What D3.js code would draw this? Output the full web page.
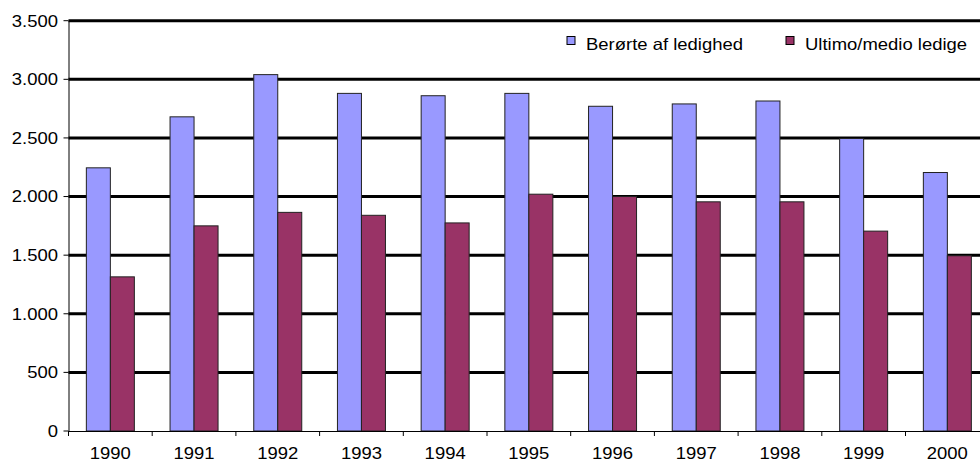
<!DOCTYPE html>
<html>
<head>
<meta charset="utf-8">
<script src="https://cdn.jsdelivr.net/npm/d3@7"></script>
<style>
  html, body { margin: 0; padding: 0; background: #fff; }
  svg { display: block; }
  text { font-family: Arial, "Liberation Sans", sans-serif; fill: #000; }
</style>
</head>
<body>
<script>
const years = ["1990","1991","1992","1993","1994","1995","1996","1997","1998","1999","2000"];
const berorte = [2245, 2680, 3040, 2880, 2860, 2880, 2770, 2790, 2815, 2495, 2205];
const ultimo = [1315, 1750, 1865, 1840, 1775, 2020, 2000, 1955, 1955, 1705, 1495];
const seriesNames = ["Berørte af ledighed", "Ultimo/medio ledige"];
const seriesColors = ["#9999FF", "#993366"];
const yTicks = [0, 500, 1000, 1500, 2000, 2500, 3000, 3500];

const W = 980, H = 463;
const plotLeft = 68.5, step = 83.7;
const plotTop = 20.7, plotBottom = 431;
const fs = 16.5, sx = 1.12;

const svg = d3.select("body").append("svg").attr("width", W).attr("height", H);

const x = d3.scaleBand().domain(years).range([plotLeft, plotLeft + step * years.length]).padding(0);
const y = d3.scaleLinear().domain([0, 3500]).range([plotBottom, plotTop]);
const inner = d3.scaleBand().domain([0, 1]).range([-24, 24]).padding(0);

const loc = d3.formatLocale({decimal: ",", thousands: ".", grouping: [3], currency: ["", ""]});
const fmt = loc.format(",d");

// gridlines
svg.append("g").selectAll("line").data(yTicks.filter(d => d > 0)).join("line")
  .attr("x1", plotLeft).attr("x2", x.range()[1])
  .attr("y1", d => y(d)).attr("y2", d => y(d))
  .attr("stroke", "#000").attr("stroke-width", 3);

// bars
const data = years.map((yr, i) => ({yr, vals: [berorte[i], ultimo[i]]}));
const groups = svg.append("g").selectAll("g").data(data).join("g")
  .attr("transform", d => `translate(${x(d.yr) + x.bandwidth() / 2},0)`);
groups.selectAll("rect").data(d => d.vals.map((v, k) => ({v, k}))).join("rect")
  .attr("x", d => inner(d.k)).attr("width", inner.bandwidth())
  .attr("y", d => y(d.v)).attr("height", d => y(0) - y(d.v))
  .attr("fill", d => seriesColors[d.k])
  .attr("stroke", "#222").attr("stroke-width", 1);

// y axis
const yAxis = svg.append("g");
yAxis.append("line").attr("x1", plotLeft + 0.5).attr("x2", plotLeft + 0.5).attr("y1", plotTop).attr("y2", plotBottom)
  .attr("stroke", "#000").attr("stroke-width", 1);
yAxis.selectAll("line.t").data(yTicks).join("line").attr("class", "t")
  .attr("x1", plotLeft - 5).attr("x2", plotLeft).attr("y1", d => y(d)).attr("y2", d => y(d))
  .attr("stroke", "#000").attr("stroke-width", 1);
yAxis.selectAll("g.lab").data(yTicks).join("g").attr("class", "lab")
  .attr("transform", d => `translate(${plotLeft - 10.5},${y(d)}) scale(${sx},1)`)
  .append("text").attr("text-anchor", "end").attr("dy", "0.36em")
  .style("font-size", fs + "px").text(d => fmt(d));

// x axis
const xAxis = svg.append("g");
xAxis.append("line").attr("x1", plotLeft).attr("x2", x.range()[1]).attr("y1", plotBottom + 0.5).attr("y2", plotBottom + 0.5)
  .attr("stroke", "#000").attr("stroke-width", 1);
xAxis.selectAll("line.t").data(years).join("line").attr("class", "t")
  .attr("x1", d => x(d)).attr("x2", d => x(d)).attr("y1", plotBottom).attr("y2", plotBottom + 5)
  .attr("stroke", "#000").attr("stroke-width", 1);
xAxis.selectAll("g.lab").data(years).join("g").attr("class", "lab")
  .attr("transform", d => `translate(${x(d) + x.bandwidth() / 2},${plotBottom + 28}) scale(${sx},1)`)
  .append("text").attr("text-anchor", "middle")
  .style("font-size", fs + "px").text(d => d);

// legend
const legX = [567, 786];
const leg = svg.append("g").selectAll("g").data(seriesNames).join("g");
leg.append("rect").attr("x", (d, i) => legX[i]).attr("y", 36.5).attr("width", 8).attr("height", 8)
  .attr("fill", (d, i) => seriesColors[i]).attr("stroke", "#000").attr("stroke-width", 1);
leg.append("g").attr("transform", (d, i) => `translate(${legX[i] + 19},50) scale(${sx},1)`)
  .append("text").style("font-size", fs + "px").text(d => d);
</script>
</body>
</html>
